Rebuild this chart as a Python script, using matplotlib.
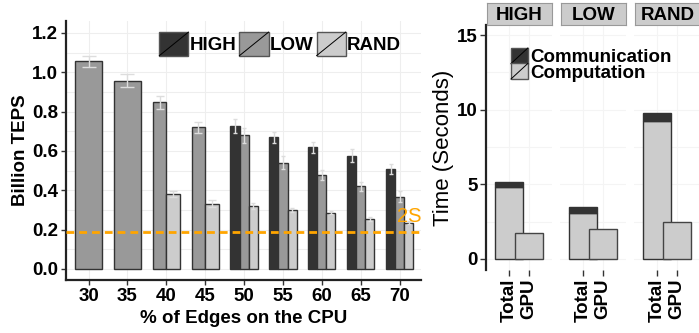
import numpy as np
from matplotlib import pyplot as plt
from matplotlib.patches import Rectangle
from matplotlib.lines import Line2D
from matplotlib.legend_handler import HandlerBase

plt.rcParams['font.family'] = ['Liberation Sans', 'DejaVu Sans']
plt.rcParams['font.weight'] = 'bold'
plt.rcParams['axes.labelweight'] = 'bold'
plt.rcParams['font.size'] = 13.5

###
# Data
###

# left panel: throughput per % of edges on the CPU
edge_pct = ['30', '35', '40', '45', '50', '55', '60', '65', '70']
series = ['HIGH', 'LOW', 'RAND']
nan = np.nan
teps_high = [nan, nan, nan, nan, 0.727, 0.669, 0.619, 0.575, 0.510]
teps_low = [1.056, 0.958, 0.847, 0.720, 0.681, 0.541, 0.476, 0.420, 0.368]
teps_rand = [nan, nan, 0.383, 0.332, 0.319, 0.300, 0.286, 0.254, 0.236]
err_high = [nan, nan, nan, nan, 0.038, 0.030, 0.028, 0.033, 0.026]
err_low = [0.028, 0.032, 0.032, 0.026, 0.038, 0.031, 0.025, 0.024, 0.027]
err_rand = [nan, nan, 0.015, 0.018, 0.015, 0.010, 0.008, 0.008, 0.008]
two_socket = 0.19

# right panel: time breakdown
facets = ['HIGH', 'LOW', 'RAND']
time_labels = ['Total', 'GPU']
comp_time = [4.80, 3.10, 9.24]
comm_time = [0.38, 0.40, 0.54]
gpu_time = [1.76, 2.00, 2.46]

colors = {'HIGH': '#333333', 'LOW': '#999999', 'RAND': '#cccccc'}
edge = '#333333'
grid_c = '#eeeeee'


class SlashHandler(HandlerBase):
	# ggplot style legend key: filled square with a diagonal line
	def create_artists(self, legend, orig_handle, xdescent, ydescent,
					   width, height, fontsize, trans):
		x0, y0 = -xdescent, -ydescent
		r = Rectangle((x0, y0), width, height, facecolor=orig_handle.get_facecolor(),
					  edgecolor='#555555', lw=1.0, transform=trans)
		l = Line2D([x0, x0 + width], [y0, y0 + height], color='black', lw=0.7, transform=trans)
		return [r, l]


W, H = 699, 333
fig = plt.figure(figsize=(W / 100, H / 100), dpi=100)

###
# Left panel
###
ax = fig.add_axes([66 / W, 1 - 280 / H, (421 - 66) / W, (280 - 21) / H])
ax.set_xlim(-0.58, 8.55)
ax.set_ylim(-0.056, 1.261)

vals = {'HIGH': teps_high, 'LOW': teps_low, 'RAND': teps_rand}
errs = {'HIGH': err_high, 'LOW': err_low, 'RAND': err_rand}
group_w = 0.7
px_per_unit = 38.9
for i in range(len(edge_pct)):
	present = [s for s in series if not np.isnan(vals[s][i])]
	n = len(present)
	bw = group_w / n
	for j, s in enumerate(present):
		x = i - group_w / 2 + bw * (j + 0.5)
		ax.bar(x, vals[s][i], width=bw, color=colors[s], edgecolor=edge, lw=1.0, zorder=2)
		cap = bw * 0.55 * px_per_unit * 0.72 / 2
		ax.errorbar(x, vals[s][i], yerr=errs[s][i], color='#dddddd', lw=1.0,
					capsize=cap, capthick=1.0, zorder=3)

ax.axhline(two_socket, color='orange', lw=2, dashes=(2.8, 1.8), zorder=4)
ax.text(7.92, two_socket + 0.075, '2S', color='orange', fontsize=14.5, fontweight='normal',
		ha='left', va='center', clip_on=True, zorder=5)

ax.set_xticks(range(len(edge_pct)))
ax.set_xticklabels(edge_pct)
ax.set_yticks(np.arange(0, 1.21, 0.2))
ax.set_yticklabels(['%.1f' % v for v in np.arange(0, 1.21, 0.2)])
ax.set_yticks(np.arange(0.1, 1.21, 0.2), minor=True)
ax.grid(True, which='both', color=grid_c, lw=0.8, zorder=0)
ax.tick_params(axis='y', which='minor', length=0)
ax.tick_params(length=3.5, width=1, color='#333333', pad=2)
for sp in ['top', 'right']:
	ax.spines[sp].set_visible(False)
for sp in ['left', 'bottom']:
	ax.spines[sp].set_color('#222222')
	ax.spines[sp].set_linewidth(1.6)
ax.set_xlabel('% of Edges on the CPU', labelpad=4)
ax.set_ylabel('Billion TEPS', labelpad=2)

handles = [Rectangle((0, 0), 1, 1, facecolor=colors[s]) for s in series]
ax.legend(handles, series, handler_map={Rectangle: SlashHandler()}, ncol=3,
		  loc='upper left', bbox_to_anchor=(0.263, 0.957), frameon=False,
		  borderpad=0, borderaxespad=0, handlelength=1.55, handleheight=1.55,
		  handletextpad=0.08, columnspacing=0.15, fontsize=13.5)

###
# Right panel: one facet per graph
###
lefts = [486, 560, 634]
pw = 66
for k, f in enumerate(facets):
	fa = fig.add_axes([lefts[k] / W, 1 - 270 / H, pw / W, (270 - 25) / H])
	fa.set_xlim(-1.15, 2.15)
	fa.set_ylim(-0.737, 15.67)
	fa.bar(0, comp_time[k], width=1.4, color='#cccccc', edgecolor=edge, lw=1.0, zorder=2)
	fa.bar(0, comm_time[k], bottom=comp_time[k], width=1.4, color='#333333',
		   edgecolor=edge, lw=1.0, zorder=2)
	fa.bar(1, gpu_time[k], width=1.4, color='#cccccc', edgecolor='#444444', lw=1.0, zorder=3)
	fa.set_xticks([0, 1])
	fa.set_xticklabels(time_labels, rotation=90, va='top', ha='center')
	fa.set_yticks([0, 5, 10, 15])
	fa.set_yticks([2.5, 7.5, 12.5], minor=True)
	fa.grid(True, which='both', color='#f4f4f4', lw=0.8, zorder=0)
	fa.tick_params(axis='y', which='minor', length=0)
	fa.tick_params(length=4, width=1, color='#333333', pad=2)
	for sp in ['top', 'right', 'bottom']:
		fa.spines[sp].set_visible(False)
	if k == 0:
		fa.spines['left'].set_color('#222222')
		fa.spines['left'].set_linewidth(1.6)
		fa.set_ylabel('Time (Seconds)', fontsize=16, fontweight='normal', labelpad=2)
	else:
		fa.spines['left'].set_visible(False)
		fa.tick_params(axis='y', left=False, labelleft=False)

	# facet strip
	st = fig.add_axes([(lefts[k] + 1) / W, 1 - 25 / H, (pw - 1) / W, 22 / H])
	st.set_facecolor('#cccccc')
	st.set_xticks([])
	st.set_yticks([])
	for sp in st.spines.values():
		sp.set_color('#999999')
		sp.set_linewidth(0.8)
	st.text(0.5, 0.45, f, ha='center', va='center', transform=st.transAxes, fontsize=13.5)

leg_handles = [Rectangle((0, 0), 1, 1, facecolor='#333333'),
			   Rectangle((0, 0), 1, 1, facecolor='#cccccc')]
fig.legend(leg_handles, ['Communication', 'Computation'],
		   handler_map={Rectangle: SlashHandler()}, loc='upper left',
		   bbox_to_anchor=(511 / W, 1 - 48 / H), frameon=False, borderpad=0,
		   borderaxespad=0, handlelength=0.9, handleheight=0.9, handletextpad=0.12,
		   labelspacing=-0.15, fontsize=13.5)

fig.savefig('out.png', dpi=100)
